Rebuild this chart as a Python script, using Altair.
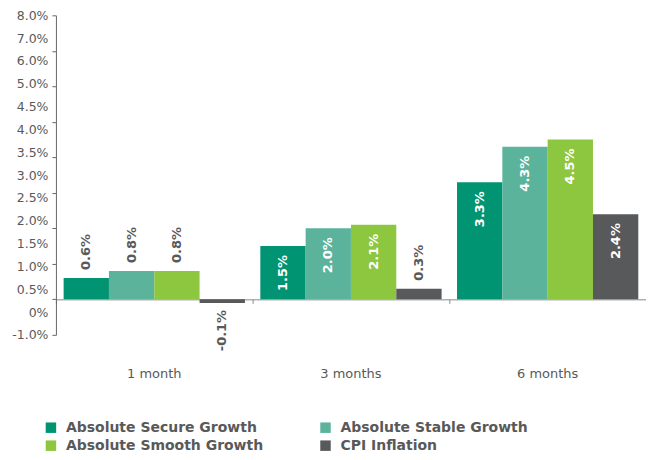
import altair as alt
import pandas as pd

periods = ["1 month", "3 months", "6 months"]
series = ["Absolute Secure Growth", "Absolute Stable Growth",
          "Absolute Smooth Growth", "CPI Inflation"]
secure = [0.6, 1.5, 3.3]
stable = [0.8, 2.0, 4.3]
smooth = [0.8, 2.1, 4.5]
cpi = [-0.1, 0.3, 2.4]
colors = ["#009473", "#5bb39c", "#8dc63f", "#58595b"]
y_tick_labels = ["-1.0%", "0%", "0.5%", "1.0%", "1.5%", "2.0%", "2.5%", "3.0%",
                 "3.5%", "4.0%", "4.5%", "5.0%", "6.0%", "7.0%", "8.0%"]
y_ticks = [-1, 0, 1, 2, 3, 4, 5, 6, 7, 8]
y_min, y_max = -1.0, 8.0

rows = []
for s, vals in zip(series, [secure, stable, smooth, cpi]):
    for p, v in zip(periods, vals):
        rows.append({"period": p, "series": s, "value": v, "label": f"{v:.1f}%"})
df = pd.DataFrame(rows)

W, H = 591, 320
FONT = "DejaVu Sans"
GRAY = "#595959"

n = len(y_tick_labels)
step = (y_max - y_min) / (n - 1)
label_values = [y_min + i * step for i in range(n)]
label_expr = "[" + ",".join(f'"{t}"' for t in y_tick_labels) + "]" + \
    f"[round((datum.value - ({y_min})) / {step})]"

yscale = alt.Scale(domain=[y_min, y_max], nice=False, zero=False)

base = alt.Chart(df).encode(
    x=alt.X("period:N", sort=periods, title=None,
            scale=alt.Scale(paddingInner=0, paddingOuter=0),
            axis=alt.Axis(labelAngle=0, bandPosition=0, offset=-(H / (y_max - y_min)),
                          domainColor="#8a8a8a", tickColor="#8a8a8a", tickSize=4,
                          labelPadding=64, labelFontSize=13, labelColor=GRAY,
                          labelFont=FONT, grid=False)),
    xOffset=alt.XOffset("series:N", sort=series,
                        scale=alt.Scale(paddingOuter=0.17, paddingInner=0)),
)

bars = base.mark_bar().encode(
    y=alt.Y("value:Q", scale=yscale, title=None,
            axis=alt.Axis(values=label_values, labelExpr=label_expr, ticks=False,
                          domainColor="#666666", labelPadding=8, labelFontSize=12.5,
                          labelColor=GRAY, labelFont=FONT, grid=False, orient="left")),
    color=alt.Color("series:N", sort=series,
                    scale=alt.Scale(domain=series, range=colors),
                    legend=alt.Legend(title=None, orient="none", legendX=-12, legendY=406,
                                      columns=2, direction="horizontal",
                                      symbolType="square", symbolSize=110,
                                      symbolStrokeWidth=0, labelFontSize=14,
                                      labelFontWeight="bold", labelColor=GRAY,
                                      labelFont=FONT, labelOffset=8, rowPadding=4,
                                      columnPadding=55, labelLimit=300)),
)

ticks_layer = base.mark_bar(opacity=0).encode(
    y=alt.Y("value:Q", scale=yscale, title=None,
            axis=alt.Axis(values=y_ticks, labels=False, domain=False, ticks=True,
                          tickSize=4, tickColor="#666666", grid=False, orient="left")),
)

txt_common = dict(angle=270, baseline="middle", fontWeight="bold", fontSize=13, font=FONT)

inside = base.transform_filter("datum.value >= 1").mark_text(
    align="right", dx=-9, color="white", **txt_common
).encode(y=alt.Y("value:Q", scale=yscale, axis=None), text="label:N")

outside = base.transform_filter("datum.value >= 0 && datum.value < 1").mark_text(
    align="left", dx=8, color=GRAY, **txt_common
).encode(y=alt.Y("value:Q", scale=yscale, axis=None), text="label:N")

below = base.transform_filter("datum.value < 0").mark_text(
    align="right", dx=-7, color=GRAY, **txt_common
).encode(y=alt.Y("value:Q", scale=yscale, axis=None), text="label:N")

chart = alt.layer(bars, ticks_layer, inside, outside, below).resolve_axis(
    y="independent"
).properties(
    width=W, height=H, padding={"left": 3, "top": 1, "right": 0, "bottom": 0}
).configure_view(stroke=None)

chart.save("out.html", embed_options={"renderer": "svg", "actions": False})
